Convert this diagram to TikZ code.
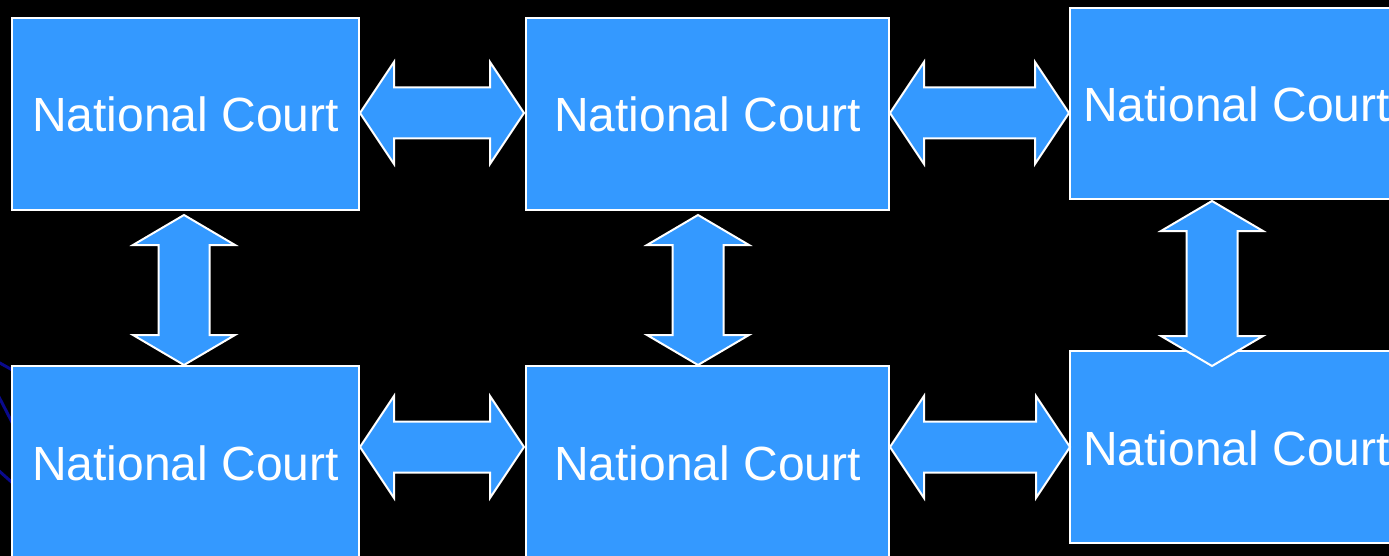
\documentclass[tikz,border=0pt]{standalone}
\usepackage{fontspec}
\setmainfont{Liberation Sans}
\usetikzlibrary{calc}
\definecolor{courtblue}{RGB}{52,153,255}
\definecolor{swirl}{RGB}{10,10,140}
\tikzset{
  courtbox/.style={draw=white, line width=2pt, fill=courtblue, inner sep=0pt},
  courttext/.style={text=white, font=\fontsize{48}{57}\selectfont, inner sep=0pt},
  blockarrow/.style={draw=white, line width=2pt, fill=courtblue, line join=miter},
}
\newcommand\hdarrow[2]{%
  \filldraw[blockarrow] let \p1=(#1), \p2=(#2) in
    (\x1,\y1) -- ++(34pt,51pt) -- ++(0,-25.5pt) -- (\x2-34pt,\y1+25.5pt)
    -- ++(0,25.5pt) -- (\x2,\y2) -- ++(-34pt,-51pt) -- ++(0,25.5pt)
    -- (\x1+34pt,\y1-25.5pt) -- ++(0,-25.5pt) -- cycle;}
\newcommand\vdarrow[2]{%
  \filldraw[blockarrow] let \p1=(#1), \p2=(#2) in
    (\x1,\y1) -- ++(51pt,-30pt) -- ++(-25.5pt,0) -- (\x1+25.5pt,\y2+30pt)
    -- ++(25.5pt,0) -- (\x2,\y2) -- ++(-51pt,30pt) -- ++(25.5pt,0)
    -- (\x1-25.5pt,\y1-30pt) -- ++(-25.5pt,0) -- cycle;}
\begin{document}
\begin{tikzpicture}[x=1pt, y=-1pt]
  \fill[black] (0,0) rectangle (1389,556);
  \useasboundingbox (0,0) rectangle (1389,556);
  \begin{scope}
    \clip (0,0) rectangle (1389,556);
    % faint background swirls
    \draw[swirl, line width=3pt] (-2,362) -- (16,372);
    \draw[swirl, line width=3pt] (-2,395) -- (16,430);
    \draw[swirl, line width=3pt] (-2,470) -- (16,486);
    % boxes
    \node[courtbox, minimum width=347pt, minimum height=192pt] (b1) at (185.5,114) {};
    \node[courtbox, minimum width=363pt, minimum height=192pt] (b2) at (707.5,114) {};
    \node[courtbox, minimum width=363pt, minimum height=191pt] (b3) at (1251.5,103.5) {};
    \node[courtbox, minimum width=347pt, minimum height=192pt] (b4) at (185.5,462) {};
    \node[courtbox, minimum width=363pt, minimum height=192pt] (b5) at (707.5,462) {};
    \node[courtbox, minimum width=363pt, minimum height=192pt] (b6) at (1251.5,447) {};
    % texts
    \node[courttext] (t1) at (185.5,114) {National Court};
    \node[courttext] (t2) at (707.5,114) {National Court};
    \node[courttext] (t3) at (1236.5,104) {National Court};
    \node[courttext] (t4) at (185.5,463) {National Court};
    \node[courttext] (t5) at (707.5,463) {National Court};
    \node[courttext] (t6) at (1236.5,448) {National Court};
    % arrow end points on box edges
    \coordinate (h1a) at (360,113);  \coordinate (h1b) at (524,113);
    \coordinate (h2a) at (890,113);  \coordinate (h2b) at (1069,113);
    \coordinate (h3a) at (360,447);  \coordinate (h3b) at (524,447);
    \coordinate (h4a) at (890,447);  \coordinate (h4b) at (1070,447);
    \coordinate (v1a) at (184,215);  \coordinate (v1b) at (184,365);
    \coordinate (v2a) at (698,215);  \coordinate (v2b) at (698,365);
    \coordinate (v3a) at (1212,201); \coordinate (v3b) at (1212,366);
    \hdarrow{h1a}{h1b}
    \hdarrow{h2a}{h2b}
    \hdarrow{h3a}{h3b}
    \hdarrow{h4a}{h4b}
    \vdarrow{v1a}{v1b}
    \vdarrow{v2a}{v2b}
    \vdarrow{v3a}{v3b}
  \end{scope}
\end{tikzpicture}
\end{document}
